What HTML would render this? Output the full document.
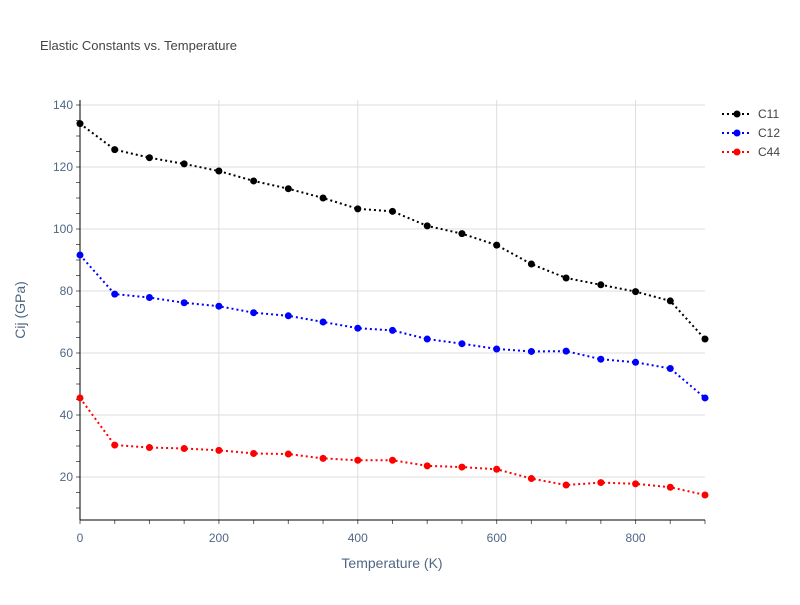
<!DOCTYPE html>
<html><head><meta charset="utf-8"><style>
body{margin:0;background:#fff;font-family:"Liberation Sans",sans-serif}
svg text{font-family:"Liberation Sans",sans-serif}
</style></head><body>
<svg id="chart" width="800" height="600">
<rect width="800" height="600" fill="#fff"/>
<text x="40" y="50" font-size="13" fill="#444">Elastic Constants vs. Temperature</text>
<g id="grid"></g><g id="axes"></g><g id="series"></g><g id="legend"></g>
<text x="392" y="568" font-size="14" fill="#506784" text-anchor="middle">Temperature (K)</text>
<text x="25" y="310" font-size="14" fill="#506784" text-anchor="middle" transform="rotate(-90 25 310)">Cij (GPa)</text>
</svg>
<script>
const temps=[0,50,100,150,200,250,300,350,400,450,500,550,600,650,700,750,800,850,900];
const c11=[134,125.6,123,121,118.7,115.5,113,110,106.5,105.7,101,98.5,94.8,88.7,84.2,82,79.8,76.8,64.5];
const c12=[91.6,79,77.9,76.2,75.1,73,72,70,68,67.3,64.5,63,61.3,60.5,60.6,58,57,55,45.5];
const c44=[45.5,30.3,29.5,29.2,28.6,27.6,27.4,26,25.4,25.4,23.6,23.2,22.5,19.5,17.4,18.2,17.8,16.7,14.2];
const xTicks=[0,200,400,600,800];
const yTicks=[20,40,60,80,100,120,140];
const seriesNames=["C11","C12","C44"];
const colors=["#000","#00f","#f00"];
const NS="http://www.w3.org/2000/svg";
const X0=80,X1=705,YT=100,YB=520;
const xs=v=>X0+(v-0)/900*(X1-X0);
const ys=v=>539-v*3.1;
function mk(tag,attrs,parent){const e=document.createElementNS(NS,tag);for(const k in attrs)e.setAttribute(k,attrs[k]);parent.appendChild(e);return e;}
const grid=document.getElementById('grid'),axes=document.getElementById('axes'),ser=document.getElementById('series'),leg=document.getElementById('legend');
xTicks.forEach(t=>{const l=mk('line',{x1:xs(t),x2:xs(t),y1:YT,y2:YB,stroke:'#ddd'},grid);

const tx=mk('text',{x:xs(t),y:YB+22,'font-size':12,fill:'#506784','text-anchor':'middle'},axes);tx.textContent=t;
});
yTicks.forEach(t=>{const l=mk('line',{x1:X0,x2:X1,y1:ys(t),y2:ys(t),stroke:'#ddd'},grid);

const tx=mk('text',{x:X0-7,y:ys(t)+4,'font-size':12,fill:'#506784','text-anchor':'end'},axes);tx.textContent=t;
});
for(let v=10;v<=140;v+=5){const tk=mk('line',{x1:X0-4,x2:X0,y1:ys(v),y2:ys(v),stroke:'#666'},axes);
}
for(let v=0;v<=900;v+=50){const tk=mk('line',{x1:xs(v),x2:xs(v),y1:YB,y2:YB+4,stroke:'#666'},axes);
}
const ya=mk('line',{x1:X0,x2:X0,y1:YT,y2:YB,stroke:'#000'},axes);

const xa=mk('line',{x1:X0,x2:X1,y1:YB,y2:YB,stroke:'#000'},axes);

[c11,c12,c44].forEach((d,i)=>{
const g=mk('g',{},ser);
const p=mk('polyline',{points:d.map((v,j)=>xs(temps[j])+','+ys(v)).join(' '),fill:'none',stroke:colors[i],'stroke-width':2,'stroke-dasharray':'2,3'},g);

d.forEach((v,j)=>{const c=mk('circle',{cx:xs(temps[j]),cy:ys(v),r:3.5,fill:colors[i]},g);
});
const ly=114+i*19;
const lg=mk('g',{},leg);
mk('line',{x1:722,x2:752,y1:ly,y2:ly,stroke:colors[i],'stroke-width':2,'stroke-dasharray':'2,3'},lg);
mk('circle',{cx:737,cy:ly,r:3.5,fill:colors[i]},lg);
const lt=mk('text',{x:758,y:ly+4,'font-size':12,fill:'#444'},lg);lt.textContent=seriesNames[i];
});
</script>
</body></html>
